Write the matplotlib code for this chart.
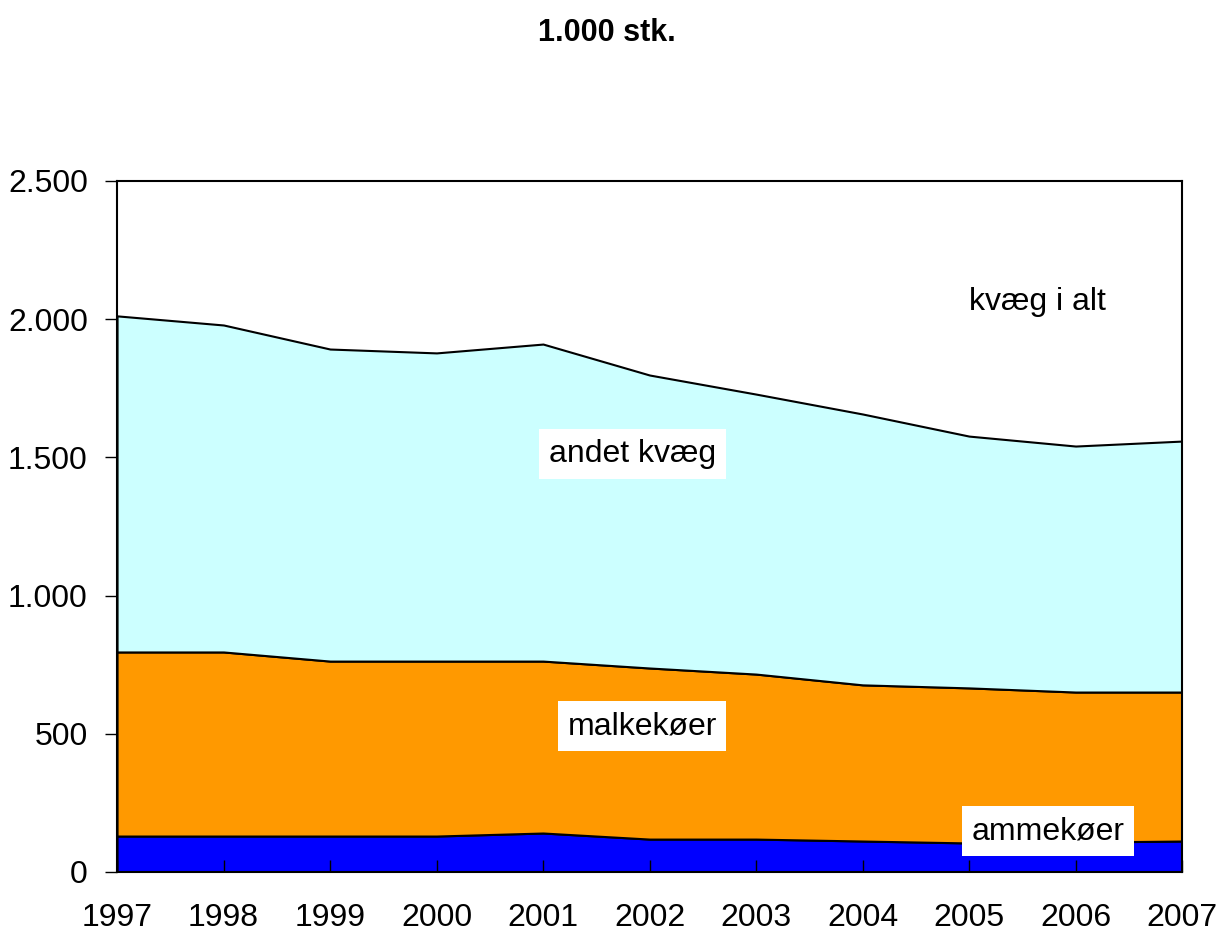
import numpy as np
import matplotlib.pyplot as plt
from matplotlib.ticker import FuncFormatter

plt.rcParams['font.family'] = ['Liberation Sans', 'DejaVu Sans']

years = [1997, 1998, 1999, 2000, 2001, 2002, 2003, 2004, 2005, 2006, 2007]
ammekoer = [130, 130, 130, 130, 141, 119, 119, 112, 105, 108, 112]
malkekoer = [666, 666, 633, 633, 622, 619, 597, 565, 561, 543, 539]
andet_kvaeg = [1216, 1183, 1129, 1115, 1147, 1060, 1013, 980, 911, 890, 908]

colors = ['#0000ff', '#ff9900', '#ccffff']

fig = plt.figure(figsize=(12.19, 9.31), dpi=100)
ax = fig.add_axes([0.096, 0.0634, 0.8737, 0.7422])

ax.stackplot(years, ammekoer, malkekoer, andet_kvaeg, colors=colors,
             edgecolor='black', linewidth=1.5)

ax.set_xlim(1997, 2007)
ax.set_ylim(0, 2500)
ax.set_xticks(years)
ax.set_yticks(np.arange(0, 2501, 500))
ax.yaxis.set_major_formatter(FuncFormatter(lambda v, p: f'{int(v):,}'.replace(',', '.')))
ax.tick_params(axis='x', direction='in', length=9, width=1, labelsize=23, pad=22)
ax.tick_params(axis='y', direction='out', length=9, width=1, labelsize=23, pad=12)
for s in ax.spines.values():
    s.set_linewidth(1.5)

fig.text(0.498, 0.965, '1.000 stk.', ha='center', va='center', fontsize=22, fontweight='bold')

box = dict(boxstyle='square,pad=0.3', fc='white', ec='none')
ax.text(2005.64, 2062, 'kvæg i alt', ha='center', va='center', fontsize=23)
ax.text(2001.84, 1512, 'andet kvæg', ha='center', va='center', fontsize=23, bbox=box)
ax.text(2001.93, 528, 'malkekøer', ha='center', va='center', fontsize=23, bbox=box)
ax.text(2005.74, 148, 'ammekøer', ha='center', va='center', fontsize=23, bbox=box)

fig.savefig('out.png', dpi=100)
